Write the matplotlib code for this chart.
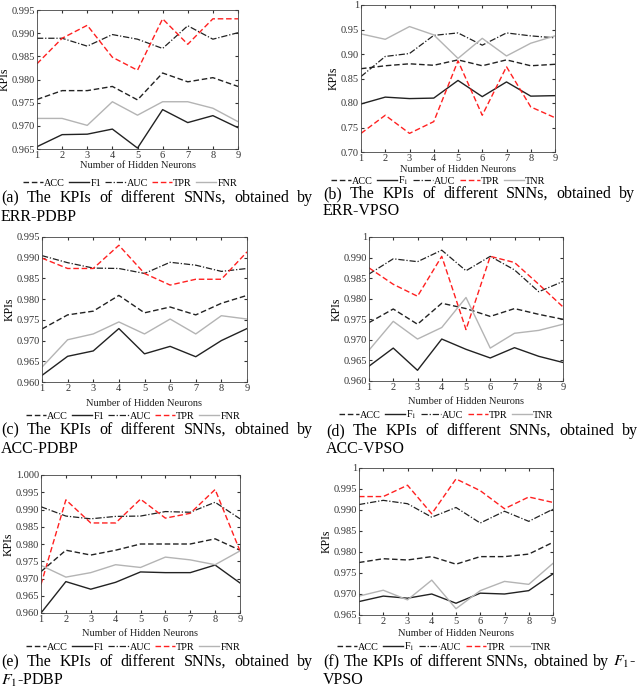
import matplotlib
matplotlib.use('Agg')
import matplotlib.pyplot as plt
import numpy as np

plt.rcParams['font.family'] = 'Liberation Serif'
plt.rcParams['mathtext.fontset'] = 'stix'

W, H = 640, 689
x = np.arange(1, 10)

# (a) ERR-PDBP
acc_a = [0.9757, 0.9776, 0.9776, 0.9785, 0.9756, 0.9814, 0.9795, 0.9804, 0.9785]
f1_a = [0.9655, 0.9681, 0.9682, 0.9693, 0.9652, 0.9735, 0.9707, 0.9722, 0.9696]
auc_a = [0.9889, 0.9889, 0.9872, 0.9897, 0.9887, 0.9867, 0.9916, 0.9887, 0.9901]
tpr_a = [0.9834, 0.9889, 0.9917, 0.9848, 0.9820, 0.9931, 0.9876, 0.9931, 0.9931]
fnr_a = [0.9716, 0.9716, 0.9701, 0.9752, 0.9723, 0.9752, 0.9752, 0.9738, 0.9709]

# (b) ERR-VPSO
acc_b = [0.870, 0.876, 0.880, 0.877, 0.888, 0.876, 0.888, 0.876, 0.879]
f1_b = [0.798, 0.812, 0.809, 0.810, 0.846, 0.813, 0.843, 0.814, 0.815]
auc_b = [0.854, 0.895, 0.901, 0.938, 0.943, 0.918, 0.943, 0.937, 0.933]
tpr_b = [0.738, 0.775, 0.738, 0.762, 0.886, 0.775, 0.874, 0.792, 0.770]
tnr_b = [0.941, 0.930, 0.956, 0.939, 0.891, 0.932, 0.896, 0.922, 0.937]

# (c) ACC-PDBP
acc_c = [0.9728, 0.9762, 0.9771, 0.9809, 0.9767, 0.9781, 0.9762, 0.9790, 0.9809]
f1_c = [0.9616, 0.9662, 0.9675, 0.9729, 0.9668, 0.9686, 0.9661, 0.9700, 0.9729]
auc_c = [0.9905, 0.9888, 0.9875, 0.9874, 0.9862, 0.9889, 0.9882, 0.9867, 0.9874]
tpr_c = [0.9899, 0.9874, 0.9874, 0.9930, 0.9862, 0.9834, 0.9848, 0.9848, 0.9914]
fnr_c = [0.9636, 0.9702, 0.9716, 0.9745, 0.9716, 0.9752, 0.9716, 0.9760, 0.9752]

# (d) ACC-VPSO
acc_d = [0.9742, 0.9775, 0.9738, 0.9789, 0.9776, 0.9757, 0.9776, 0.9762, 0.9750]
f1_d = [0.9636, 0.9680, 0.9626, 0.9702, 0.9677, 0.9656, 0.9681, 0.9660, 0.9645]
auc_d = [0.9860, 0.9897, 0.9890, 0.9918, 0.9868, 0.9903, 0.9870, 0.9817, 0.9842]
tpr_d = [0.9875, 0.9835, 0.9806, 0.9903, 0.9725, 0.9903, 0.9888, 0.9835, 0.9780]
tnr_d = [0.9675, 0.9745, 0.9702, 0.9730, 0.9803, 0.9680, 0.9716, 0.9723, 0.9738]

# (e) F1-PDBP
acc_e = [0.9720, 0.9782, 0.9768, 0.9782, 0.9800, 0.9800, 0.9800, 0.9815, 0.9782]
f1_e = [0.9600, 0.9691, 0.9669, 0.9689, 0.9719, 0.9717, 0.9717, 0.9739, 0.9687]
auc_e = [0.9908, 0.9881, 0.9873, 0.9880, 0.9881, 0.9894, 0.9892, 0.9921, 0.9873]
tpr_e = [0.9683, 0.9928, 0.9861, 0.9861, 0.9930, 0.9875, 0.9889, 0.9958, 0.9780]
fnr_e = [0.9738, 0.9704, 0.9717, 0.9740, 0.9732, 0.9762, 0.9754, 0.9740, 0.9780]

# (f) F1-VPSO
acc_f = [0.9775, 0.9784, 0.9781, 0.9789, 0.9771, 0.9789, 0.9789, 0.9795, 0.9823]
f1_f = [0.9682, 0.9695, 0.9690, 0.9700, 0.9678, 0.9702, 0.9700, 0.9708, 0.9748]
auc_f = [0.9913, 0.9923, 0.9915, 0.9883, 0.9906, 0.9869, 0.9897, 0.9873, 0.9902]
tpr_f = [0.9932, 0.9932, 0.9959, 0.9891, 0.9974, 0.9946, 0.9903, 0.9931, 0.9918]
tnr_f = [0.9695, 0.9709, 0.9686, 0.9733, 0.9665, 0.9708, 0.9730, 0.9723, 0.9773]

yt_a = [0.965, 0.970, 0.975, 0.980, 0.985, 0.990, 0.995]
yl_a = ['0.965', '0.970', '0.975', '0.980', '0.985', '0.990', '0.995']
yt_b = [0.70, 0.75, 0.80, 0.85, 0.90, 0.95, 1.0]
yl_b = ['0.70', '0.75', '0.80', '0.85', '0.90', '0.95', '1']
yt_c = [0.960, 0.965, 0.970, 0.975, 0.980, 0.985, 0.990, 0.995]
yl_c = ['0.960', '0.965', '0.970', '0.975', '0.980', '0.985', '0.990', '0.995']
yt_d = [0.960, 0.965, 0.970, 0.975, 0.980, 0.985, 0.990, 0.995]
yl_d = ['0.960', '0.965', '0.970', '0.975', '0.980', '0.985', '0.990', '1']
yt_e = [0.960, 0.965, 0.970, 0.975, 0.980, 0.985, 0.990, 0.995, 1.000]
yl_e = ['0.960', '0.965', '0.970', '0.975', '0.980', '0.985', '0.990', '0.995', '1.000']
yt_f = [0.965, 0.970, 0.975, 0.980, 0.985, 0.990, 0.995, 1.0]
yl_f = ['0.965', '0.970', '0.975', '0.980', '0.985', '0.990', '0.995', '1']

panels = [
    # data, last name, F1 label, yticks, ylabels, (l, r, t, b), xlabel y, legend (cx, y),
    # caption (x0, x1, y1, y2, line1, line2)
    ((acc_a, f1_a, auc_a, tpr_a, fnr_a), 'FNR', 'F1', yt_a, yl_a, (37, 238, 10, 149), 166, (130, 183),
     (1, 313, 198, 217, '(a) The KPIs of different SNNs, obtained by', 'ERR-PDBP')),
    ((acc_b, f1_b, auc_b, tpr_b, tnr_b), 'TNR', r'F$_1$', yt_b, yl_b, (361, 555, 5, 152), 170, (438, 181),
     (323, 635, 194, 211, '(b) The KPIs of different SNNs, obtained by', 'ERR-VPSO')),
    ((acc_c, f1_c, auc_c, tpr_c, fnr_c), 'FNR', 'F1', yt_c, yl_c, (42, 247, 237, 382), 403, (133, 416),
     (1, 313, 430, 449, '(c) The KPIs of different SNNs, obtained by', 'ACC-PDBP')),
    ((acc_d, f1_d, auc_d, tpr_d, tnr_d), 'TNR', r'F$_1$', yt_d, yl_d, (369, 563, 237, 381), 402, (446, 415),
     (326, 638, 431, 449, '(d) The KPIs of different SNNs, obtained by', 'ACC-VPSO')),
    ((acc_e, f1_e, auc_e, tpr_e, fnr_e), 'FNR', 'F1', yt_e, yl_e, (41, 240, 475, 613), 634, (133, 647),
     (1, 313, 662, 680, '(e) The KPIs of different SNNs, obtained by', r'$F_1$-PDBP')),
    ((acc_f, f1_f, auc_f, tpr_f, tnr_f), 'TNR', r'F$_1$', yt_f, yl_f, (359, 553, 468, 615), 633, (444, 647),
     (323, 636, 662, 680, r'(f) The KPIs of different SNNs, obtained by $F_1$-', 'VPSO')),
]

fig = plt.figure(figsize=(W / 100, H / 100), dpi=100)
renderer = fig.canvas.get_renderer()


def justify(words, x0, x1, y, fs):
    # place words so the line fills x0..x1 (like the justified caption)
    texts = [fig.text(0, 1 - y / H, w, fontsize=fs, ha='left', va='center') for w in words]
    widths = [t.get_window_extent(renderer).width for t in texts]
    gap = (x1 - x0 - sum(widths)) / (len(words) - 1)
    pos = x0
    for t, w in zip(texts, widths):
        t.set_x(pos / W)
        pos += w + gap


for data, last, f1name, yt, yl, box, xly, leg, cap in panels:
    l, r, t, b = box
    ax = fig.add_axes([l / W, 1 - b / H, (r - l) / W, (b - t) / H])
    acc, f1, auc, tpr, last_vals = data
    h1, = ax.plot(x, acc, '--', color='#222222', lw=1, dashes=(4, 2))
    h2, = ax.plot(x, f1, '-', color='#222222', lw=1)
    h3, = ax.plot(x, auc, '-.', color='#222222', lw=0.9, dashes=(5, 1.5, 1, 1.5))
    h4, = ax.plot(x, tpr, '--', color='#ff2020', lw=1, dashes=(4, 2))
    h5, = ax.plot(x, last_vals, '-', color='#b4b4b4', lw=1)
    ax.set_xlim(1, 9)
    ax.set_ylim(yt[0], yt[-1])
    ax.set_xticks(x)
    ax.set_yticks(yt)
    ax.set_yticklabels(yl)
    ax.tick_params(direction='in', length=2.5, labelsize=7.5, pad=1.5, top=True, right=True,
                   colors='#333333')
    for s in ax.spines.values():
        s.set_linewidth(0.6)
        s.set_color('#444444')
    ax.set_ylabel('KPIs', fontsize=8.5, labelpad=0.5)
    fig.text((l + r) / 2 / W, 1 - xly / H, 'Number of Hidden Neurons', fontsize=7.5,
             ha='center', va='center', color='#222222')
    fig.legend([h1, h2, h3, h4, h5], ['ACC', f1name, 'AUC', 'TPR', last], loc='center',
               bbox_to_anchor=(leg[0] / W, 1 - leg[1] / H), ncol=5, frameon=False,
               fontsize=7.3, handlelength=2.0, handletextpad=0.1, columnspacing=0.4,
               borderpad=0, borderaxespad=0)
    x0, x1, y1, y2, line1, line2 = cap
    justify(line1.split(' '), x0, x1, y1, 11.5)
    fig.text(x0 / W, 1 - y2 / H, line2, fontsize=11.5, ha='left', va='center')

fig.savefig('out.png', dpi=100)
